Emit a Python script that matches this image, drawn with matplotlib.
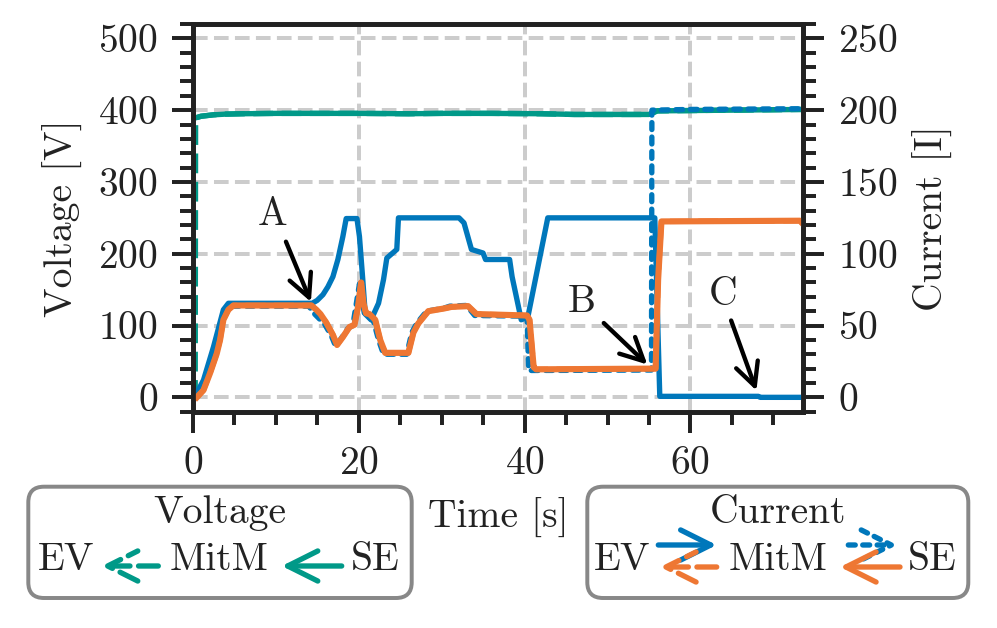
import matplotlib
matplotlib.use('Agg')
import matplotlib.pyplot as plt
from matplotlib.patches import FancyBboxPatch, FancyArrowPatch
from matplotlib.ticker import MultipleLocator

# ---------------- data ----------------
# Voltage SE -> MitM (solid teal)
t_v_se = [0.25, 1.0, 2.5, 4.0, 6.0, 10.0, 20.0, 26.0, 30.0, 36.0, 42.0, 46.0, 50.0, 55.0, 55.4, 56.0, 65.0, 73.6]
v_se = [389, 391.5, 393.5, 394.5, 395.0, 395.5, 395.5, 395.0, 395.5, 395.5, 395.0, 394.0, 394.0, 394.0, 396.0, 399.0, 400.0, 401.0]
# Voltage MitM -> EV (dashed teal)
t_v_ev = [0.0, 0.3, 0.35, 1.0, 2.5, 4.0, 6.0, 10.0, 20.0, 26.0, 30.0, 36.0, 42.0, 46.0, 50.0, 55.0, 55.4, 56.0, 65.0, 73.6]
v_ev = [0.0, 0.0, 389, 391.5, 393.5, 394.5, 395.0, 395.5, 395.5, 395.0, 395.5, 395.5, 395.0, 394.0, 394.0, 394.0, 396.0, 399.0, 400.0, 401.0]

# Current EV -> MitM (solid blue)
t_i_ev = [0.0, 0.3, 1.3, 2.5, 3.7, 4.3, 14.4, 15.0, 15.7, 16.3, 16.9, 17.5, 18.1, 18.5, 19.8, 20.1,
          20.5, 20.8, 21.5, 22.4, 23.0, 23.4, 24.6, 24.8, 32.1, 32.7, 33.6, 35.0, 35.3, 38.2, 38.5,
          39.6, 40.4, 42.8, 55.7, 56.3, 68.2, 68.4, 73.6]
i_ev = [0.0, 1.0, 12.0, 35.0, 61.0, 65.5, 65.5, 67.5, 71.5, 77.0, 84.0, 96.0, 112.0, 124.5, 124.5, 112.0,
        82.0, 58.0, 54.0, 65.5, 82.0, 97.0, 103.0, 125.0, 125.0, 121.5, 103.0, 100.5, 96.0, 96.0, 84.0,
        54.0, 56.0, 125.0, 125.0, 0.7, 0.7, 0.0, 0.0]

# Current MitM -> SE (dotted blue)
t_i_mitm_se = [0.3, 1.1, 1.9, 2.7, 3.1, 3.5, 4.1, 4.7, 14.0, 14.7, 15.9, 16.7, 17.2, 17.9, 18.7, 19.3,
               20.1, 20.7, 21.0, 21.8, 22.4, 23.0, 25.8, 26.4, 27.0, 28.2, 30.2, 31.0, 33.0, 34.0,
               40.3, 40.5, 55.3, 55.35, 60.0, 73.6]
i_mitm_se = [0.0, 5.0, 17.0, 30.0, 40.0, 54.0, 61.0, 63.5, 63.5, 58.0, 51.0, 43.0, 36.0, 41.0, 48.0, 50.0,
             79.0, 58.0, 57.0, 53.0, 40.0, 30.0, 30.0, 45.0, 51.5, 60.0, 62.0, 63.5, 64.0, 57.0,
             56.5, 18.7, 19.0, 200.0, 200.5, 201.0]

# Current SE -> MitM (solid orange)
t_i_se = [0.5, 1.3, 2.1, 2.9, 3.3, 3.7, 4.3, 4.9, 14.3, 14.9, 15.4, 16.1, 16.9, 17.4, 18.1, 18.9, 19.5,
          19.9, 20.3, 20.6, 20.9, 21.3, 22.0, 22.6, 23.2, 26.0, 26.6, 27.2, 28.4, 30.4, 31.2, 33.2,
          34.2, 40.3, 40.6, 41.1, 41.4, 55.8, 56.1, 56.5, 73.2, 73.6]
i_se = [0.0, 5.0, 17.0, 30.5, 40.0, 54.0, 61.0, 64.0, 64.0, 61.0, 58.0, 52.0, 43.5, 36.5, 42.0, 49.0, 50.5,
        62.0, 80.0, 65.0, 58.5, 58.0, 54.0, 40.0, 31.0, 31.0, 45.0, 51.5, 60.0, 62.0, 63.0, 63.5,
        58.0, 57.0, 54.0, 21.0, 19.5, 20.0, 82.0, 122.5, 123.0, 120.5]

# Current MitM -> EV (dashed orange) - forwarded SE current
t_i_mitm_ev = t_i_se
i_mitm_ev = i_se

x_ticks = [0, 20, 40, 60]
v_ticks = [0, 100, 200, 300, 400, 500]
i_ticks = [0, 50, 100, 150, 200, 250]

annotations = [("A", 9.6, 240, 11.24, 216.8, 14.25, 132.9),
               ("B", 46.9, 119, 49.55, 103.5, 54.8, 45.7),
               ("C", 63.9, 128, 64.9, 107, 67.95, 9.4)]

# ---------------- style ----------------
BLUE = '#0077BB'
ORANGE = '#EE7733'
TEAL = '#009988'
DARK = '#222222'
DPI = 285
W, H = 997, 628

plt.rcParams['font.family'] = ['cmr10']
plt.rcParams['mathtext.fontset'] = 'cm'
plt.rcParams['axes.formatter.use_mathtext'] = True
plt.rcParams['font.size'] = 10
plt.rcParams['text.color'] = DARK
plt.rcParams['axes.labelcolor'] = DARK

fig = plt.figure(figsize=(W / DPI, H / DPI), dpi=DPI)
ax = fig.add_axes([192.7 / W, 1 - 411.7 / H, (803.3 - 192.7) / W, (411.7 - 24.0) / H])
ax2 = ax.twinx()

LW = 1.35
ax.plot(t_v_se, v_se, color=TEAL, lw=LW, solid_capstyle='round')
ax.plot(t_v_ev, v_ev, color=TEAL, lw=LW, ls='--')

ax2.plot(t_i_ev, i_ev, color=BLUE, lw=LW, solid_joinstyle='round')
ax2.plot(t_i_mitm_se, i_mitm_se, color=BLUE, lw=LW, ls=(0, (1.3, 1.4)), dash_capstyle='round')
ax2.plot(t_i_mitm_ev, i_mitm_ev, color=ORANGE, lw=LW, ls='--')
ax2.plot(t_i_se, i_se, color=ORANGE, lw=LW * 1.15, solid_joinstyle='round')

ax.set_xlim(0, 73.6)
ax.set_ylim(-20, 520)
ax2.set_ylim(-10, 260)
ax.set_xticks(x_ticks)
ax.set_yticks(v_ticks)
ax2.set_yticks(i_ticks)
ax.xaxis.set_minor_locator(MultipleLocator(5))
ax.yaxis.set_minor_locator(MultipleLocator(20))
ax2.yaxis.set_minor_locator(MultipleLocator(10))

ax.grid(True, which='major', color='#cccccc', lw=1.0, ls='--')
ax.set_axisbelow(True)

for a in (ax, ax2):
    for s in a.spines.values():
        s.set_linewidth(1.2)
        s.set_color(DARK)
    a.tick_params(which='major', direction='out', length=5.2, width=1.0, color=DARK, labelsize=10, labelcolor=DARK)
    a.tick_params(which='minor', direction='out', length=3.3, width=1.0, color=DARK)
ax.tick_params(axis='y', which='both', right=False)
ax.tick_params(axis='x', which='both', top=False)

ax.set_xlabel('Time [s]')
ax.set_ylabel('Voltage [V]')
ax2.set_ylabel('Current [I]')

for lab, tx, ty, x0, y0, x1, y1 in annotations:
    ax.text(tx, ty, lab, ha='center', va='baseline', fontsize=10, color=DARK)
    ax.annotate('', xy=(x1, y1), xytext=(x0, y0),
                arrowprops=dict(arrowstyle='->', lw=1.1, color='black', shrinkA=0, shrinkB=0,
                                mutation_scale=14.5))

# ---------------- custom legends (pixel coordinates) ----------------
def P(x, y):
    return (x / DPI, (H - y) / DPI)

tr = fig.dpi_scale_trans

def box(x0, x1, y0, y1):
    p = FancyBboxPatch(P(x0, y1), (x1 - x0) / DPI, (y1 - y0) / DPI,
                       boxstyle='round,pad=0,rounding_size=0.055', transform=tr,
                       fc='white', ec='#888888', lw=1.0)
    fig.add_artist(p)

def txt(x, y, s):
    fig.text(*P(x, y), s, transform=tr, ha='center', va='baseline', fontsize=10, color=DARK)

def arr(xa, ya, xb, yb, color, ls):
    a = FancyArrowPatch(P(xa, ya), P(xb, yb), transform=tr,
                        arrowstyle='->,head_length=0.4,head_width=0.2', mutation_scale=19,
                        lw=1.35, color=color, linestyle=ls, shrinkA=0, shrinkB=0,
                        capstyle='round')
    fig.add_artist(a)

box(28.3, 411.7, 486.7, 598)
txt(220, 523.3, 'Voltage')
txt(65.7, 570, 'EV')
txt(219, 570, 'MitM')
txt(375, 570, 'SE')
arr(158.3, 566, 101.7, 566, TEAL, '--')
arr(341.7, 566, 281.7, 566, TEAL, '-')

box(587.3, 968.3, 486.7, 598)
txt(777.5, 523.3, 'Current')
txt(622.5, 570, 'EV')
txt(778, 570, 'MitM')
txt(932.5, 570, 'SE')
arr(658.3, 545, 716.7, 545, BLUE, '-')
arr(716.7, 567, 660, 567, ORANGE, '--')
arr(848.3, 545, 897.3, 545, BLUE, (0, (1.3, 1.4)))
arr(900, 567, 840, 567, ORANGE, '-')

fig.savefig('out.png', dpi=DPI)
